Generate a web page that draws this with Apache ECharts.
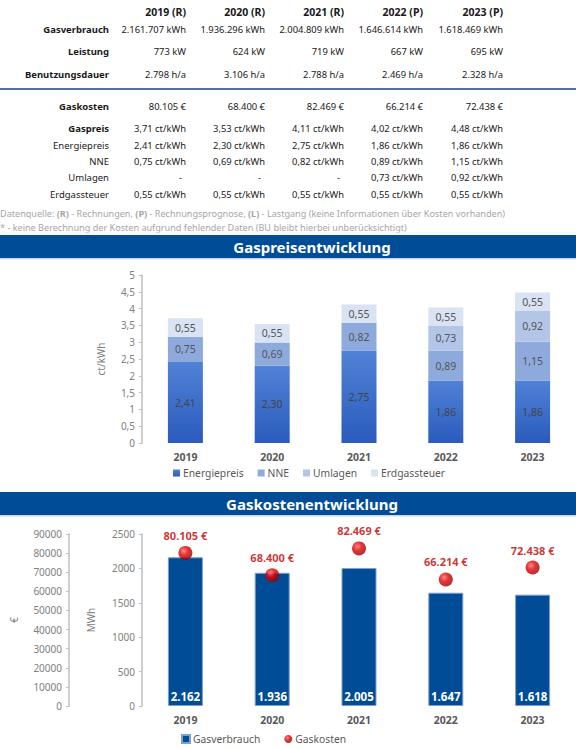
<!DOCTYPE html>
<html>
<head>
<meta charset="utf-8">
<script src="https://cdn.jsdelivr.net/npm/echarts@6/dist/echarts.min.js"></script>
<style>
html,body{margin:0;padding:0;background:#fff;}
#c{width:576px;height:749px;}
</style>
</head>
<body>
<div id="c"></div>
<script>
// ---- data ----
var yearHeaders = ['2019 (R)', '2020 (R)', '2021 (R)', '2022 (P)', '2023 (P)'];
var years = ['2019', '2020', '2021', '2022', '2023'];
var gasverbrauch = [2161707, 1936296, 2004809, 1646614, 1618469]; // kWh
var leistung = [773, 624, 719, 667, 695]; // kW
var benutzungsdauer = [2798, 3106, 2788, 2469, 2328]; // h/a
var gaskosten = [80105, 68400, 82469, 66214, 72438]; // €
var gaspreis = [3.71, 3.53, 4.11, 4.02, 4.48];
var energiepreis = [2.41, 2.30, 2.75, 1.86, 1.86];
var nne = [0.75, 0.69, 0.82, 0.89, 1.15];
var umlagen = [null, null, null, 0.73, 0.92];
var erdgassteuer = [0.55, 0.55, 0.55, 0.55, 0.55];
var priceTicks = [0, 5, 0.5];
var mwhTicks = [0, 2500, 500];
var euroTicks = [0, 90000, 10000];

// ---- helpers ----
var FONT = '"Noto Sans", "DejaVu Sans", sans-serif';
function thou(n) {
  var s = String(Math.round(n));
  return s.replace(/\B(?=(\d{3})+(?!\d))/g, '.');
}
function dec(n) { return n.toFixed(2).replace('.', ','); }

var colX = [186, 265, 344, 423, 503];
var labelX = 109;
var g = [];
function txt(t, x, y, opt) {
  opt = opt || {};
  g.push({
    type: 'text', silent: true,
    style: {
      text: t, x: x, y: y,
      textAlign: opt.align || 'right', textVerticalAlign: 'middle',
      align: opt.align || 'right', verticalAlign: 'middle',
      font: (opt.bold ? 'bold ' : '') + (opt.size || 9.4) + 'px ' + FONT,
      fill: opt.color || '#1a1a1a'
    }
  });
}
function row(label, bold, y, values) {
  txt(label, labelX, y, {bold: bold, size: 9.5});
  values.forEach(function (v, i) { txt(v, colX[i], y); });
}
yearHeaders.forEach(function (h, i) { txt(h, colX[i], 12, {bold: true, size: 10.5}); });
row('Gasverbrauch', true, 29, gasverbrauch.map(function (v) { return thou(v) + ' kWh'; }));
row('Leistung', true, 51, leistung.map(function (v) { return thou(v) + ' kW'; }));
row('Benutzungsdauer', true, 74, benutzungsdauer.map(function (v) { return thou(v) + ' h/a'; }));
g.push({type: 'line', silent: true, shape: {x1: 0, y1: 89, x2: 576, y2: 89}, style: {stroke: '#4d6ea8', lineWidth: 2}});
row('Gaskosten', true, 106, gaskosten.map(function (v) { return thou(v) + ' €'; }));
function ct(v) { return v == null ? '-' : dec(v) + ' ct/kWh'; }
row('Gaspreis', true, 128, gaspreis.map(ct));
row('Energiepreis', false, 145, energiepreis.map(ct));
row('NNE', false, 161, nne.map(ct));
row('Umlagen', false, 177, umlagen.map(ct));
row('Erdgassteuer', false, 194, erdgassteuer.map(ct));
g.forEach(function (e) { if (e.style && e.style.text === '-') { e.style.x -= 4; } });

g.push({
  type: 'text', silent: true,
  style: {
    x: 0, y: 213, textVerticalAlign: 'middle', verticalAlign: 'middle',
    text: '{n|Datenquelle: }{b|(R)}{n| - Rechnungen, }{b|(P)}{n| - Rechnungsprognose, }{b|(L)}{n| - Lastgang (keine Informationen über Kosten vorhanden)}',
    rich: {
      n: {font: '9.1px ' + FONT, fill: '#a6a6a6', color: '#a6a6a6'},
      b: {font: 'bold 9.1px ' + FONT, fill: '#a6a6a6', color: '#a6a6a6'}
    }
  }
});
txt('* - keine Berechnung der Kosten aufgrund fehlender Daten (BU bleibt hierbei unberücksichtigt)', 0, 227, {align: 'left', size: 9.1, color: '#a6a6a6'});
g.push({type: 'line', silent: true, shape: {x1: 0, y1: 233, x2: 576, y2: 233}, style: {stroke: '#eef1f5', lineWidth: 1}});

function banner(title, y) {
  g.push({type: 'rect', silent: true, shape: {x: 0, y: y, width: 576, height: 23}, style: {fill: '#004c97'}});
  g.push({type: 'rect', silent: true, shape: {x: 0, y: y + 23, width: 576, height: 1.5}, style: {fill: '#c8d6ea'}});
  txt(title, 312, y + 11.5, {align: 'center', bold: true, size: 15, color: '#ffffff'});
}
banner('Gaspreisentwicklung', 235);
banner('Gaskostenentwicklung', 492);

var axisGray = '#bfbfbf';
var labGray = '#808080';

var chart = echarts.init(document.getElementById('c'), null, {renderer: 'svg', width: 576, height: 749});
var insideLabel = function (color) {
  return {
    show: true, position: 'inside', color: color, fontSize: 10.5, fontFamily: FONT,
    formatter: function (p) { return p.value == null ? '' : dec(p.value); }
  };
};
function plain(v) { return String(v); }
chart.setOption({
  animation: false,
  backgroundColor: '#fff',
  textStyle: {fontFamily: FONT},
  graphic: g,
  grid: [
    {left: 142, width: 436, top: 275, height: 168},
    {left: 142, width: 436, top: 534, height: 172}
  ],
  legend: [
    {
      data: ['Energiepreis', 'NNE', 'Umlagen', 'Erdgassteuer'],
      left: 173, top: 468, padding: 0, itemWidth: 7, itemHeight: 7, itemGap: 14,
      icon: 'rect',
      textStyle: {color: '#595959', fontSize: 10.3, fontFamily: FONT, padding: [0, 0, 0, -2]}
    },
    {
      data: [{name: 'Gasverbrauch', icon: 'rect'}, {name: 'Gaskosten', icon: 'circle'}],
      left: 181, top: 734, padding: 0, itemWidth: 8, itemHeight: 8, itemGap: 24,
      textStyle: {color: '#595959', fontSize: 10.3, fontFamily: FONT, padding: [0, 0, 0, -2]}
    }
  ],
  xAxis: [
    {
      type: 'category', gridIndex: 0, data: years,
      axisLine: {show: false}, axisTick: {show: false},
      axisLabel: {color: '#595959', fontWeight: 'bold', fontSize: 10.5, margin: 8, fontFamily: FONT}
    },
    {
      type: 'category', gridIndex: 1, data: years,
      axisLine: {show: false}, axisTick: {show: false},
      axisLabel: {color: '#595959', fontWeight: 'bold', fontSize: 10.5, margin: 8, fontFamily: FONT}
    }
  ],
  yAxis: [
    {
      type: 'value', gridIndex: 0, min: priceTicks[0], max: priceTicks[1], interval: priceTicks[2],
      name: 'ct/kWh', nameLocation: 'middle', nameGap: 36, nameRotate: 90,
      nameTextStyle: {color: labGray, fontSize: 10, fontFamily: FONT},
      axisLine: {show: true, lineStyle: {color: axisGray, width: 1.5}},
      axisTick: {show: true, length: 3, lineStyle: {color: axisGray}},
      splitLine: {show: false},
      axisLabel: {color: labGray, fontSize: 10, margin: 7, fontFamily: FONT,
        formatter: function (v) { return String(v).replace('.', ','); }}
    },
    {
      type: 'value', gridIndex: 1, min: mwhTicks[0], max: mwhTicks[1], interval: mwhTicks[2],
      position: 'left',
      name: 'MWh', nameLocation: 'middle', nameGap: 46, nameRotate: 90,
      nameTextStyle: {color: labGray, fontSize: 10, fontFamily: FONT},
      axisLine: {show: true, lineStyle: {color: axisGray, width: 1.5}},
      axisTick: {show: true, length: 3, lineStyle: {color: axisGray}},
      splitLine: {show: false},
      axisLabel: {color: labGray, fontSize: 10, margin: 7, fontFamily: FONT, formatter: plain}
    },
    {
      type: 'value', gridIndex: 1, min: euroTicks[0], max: euroTicks[1], interval: euroTicks[2],
      position: 'left', offset: 73,
      name: '€', nameLocation: 'middle', nameGap: 50, nameRotate: 90,
      nameTextStyle: {color: labGray, fontSize: 10, fontFamily: FONT},
      axisLine: {show: true, lineStyle: {color: axisGray, width: 1.5}},
      axisTick: {show: true, length: 3, lineStyle: {color: axisGray}},
      splitLine: {show: false},
      axisLabel: {color: labGray, fontSize: 10, margin: 7, fontFamily: FONT, formatter: plain}
    }
  ],
  series: [
    {
      name: 'Energiepreis', type: 'bar', stack: 'p', xAxisIndex: 0, yAxisIndex: 0,
      barWidth: 35, data: energiepreis,
      itemStyle: {color: new echarts.graphic.LinearGradient(0, 0, 0, 1, [
        {offset: 0, color: '#5082d6'}, {offset: 1, color: '#2a5bbd'}])},
      label: insideLabel('#454545')
    },
    {
      name: 'NNE', type: 'bar', stack: 'p', xAxisIndex: 0, yAxisIndex: 0,
      barWidth: 35, data: nne,
      itemStyle: {color: '#8eaadc'},
      label: insideLabel('#555555')
    },
    {
      name: 'Umlagen', type: 'bar', stack: 'p', xAxisIndex: 0, yAxisIndex: 0,
      barWidth: 35, data: umlagen,
      itemStyle: {color: '#b4c6e8'},
      label: insideLabel('#555555')
    },
    {
      name: 'Erdgassteuer', type: 'bar', stack: 'p', xAxisIndex: 0, yAxisIndex: 0,
      barWidth: 35, data: erdgassteuer,
      itemStyle: {color: '#dae3f3'},
      label: insideLabel('#555555')
    },
    {
      name: 'Gasverbrauch', type: 'bar', xAxisIndex: 1, yAxisIndex: 1,
      barWidth: 35,
      data: gasverbrauch.map(function (v) { return v / 1000; }),
      itemStyle: {color: '#004c97', borderColor: '#7f9fd0', borderWidth: 1},
      label: {
        show: true, position: 'insideBottom', distance: 4, color: '#ffffff',
        fontWeight: 'bold', fontSize: 11.5, fontFamily: FONT,
        formatter: function (p) { return thou(p.value); }
      }
    },
    {
      name: 'Gaskosten', type: 'scatter', xAxisIndex: 1, yAxisIndex: 2,
      symbolSize: 14, data: gaskosten, z: 5,
      itemStyle: {color: new echarts.graphic.RadialGradient(0.38, 0.35, 0.7, [
        {offset: 0, color: '#ff6a6a'}, {offset: 0.45, color: '#e00000'}, {offset: 1, color: '#8f0000'}])},
      label: {
        show: true, position: 'top', distance: 5, color: '#c00000',
        fontWeight: 'bold', fontSize: 11, fontFamily: FONT,
        formatter: function (p) { return thou(p.value) + ' €'; }
      }
    }
  ]
});
</script>
</body>
</html>
